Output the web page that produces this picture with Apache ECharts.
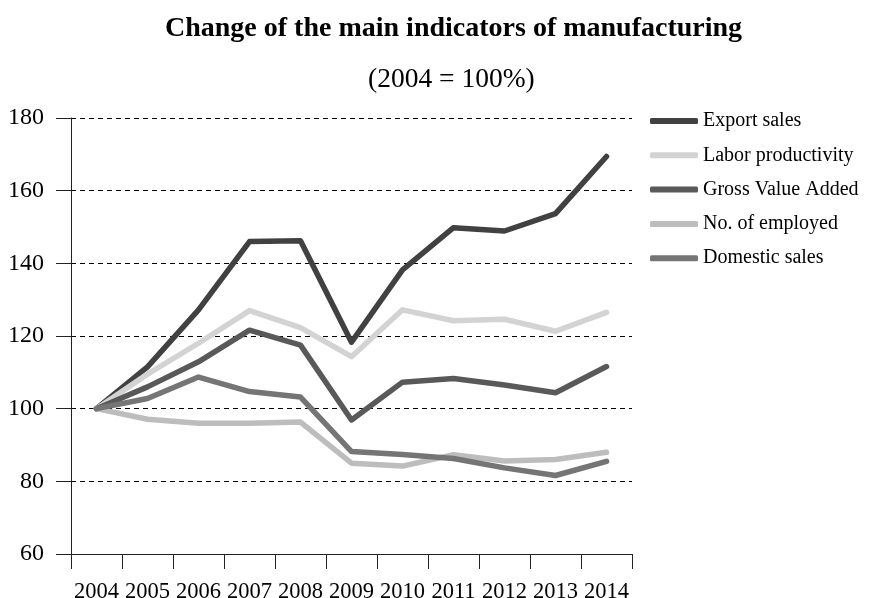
<!DOCTYPE html>
<html>
<head>
<meta charset="utf-8">
<script src="https://cdn.jsdelivr.net/npm/echarts@6/dist/echarts.min.js"></script>
<style>
html,body{margin:0;padding:0;background:#fff;}
#main{width:869px;height:598px;}
</style>
</head>
<body>
<div id="main"></div>
<script>
// 年份（x轴类目）
let years = ['2004','2005','2006','2007','2008','2009','2010','2011','2012','2013','2014'];
// 各指标数值，2004 = 100
let exportSales = [100, 111.5, 127.2, 146, 146.2, 118.3, 138.2, 149.8, 148.9, 153.7, 169.4];
let laborProductivity = [100, 109.5, 118, 127, 122.3, 114.3, 127.2, 124.2, 124.6, 121.3, 126.5];
let grossValueAdded = [100, 106, 112.9, 121.6, 117.5, 96.9, 107.3, 108.3, 106.5, 104.4, 111.6];
let employed = [100, 97.1, 96, 96, 96.3, 85, 84.2, 87.3, 85.6, 86, 88];
let domesticSales = [100, 102.8, 108.7, 104.7, 103.2, 88.2, 87.4, 86.3, 83.7, 81.6, 85.5];
let seriesNames = ['Export sales','Labor productivity','Gross Value Added','No. of employed','Domestic sales'];
let seriesColors = ['#414141','#d3d3d3','#595959','#bdbdbd','#757575'];
let yTicks = [60, 180, 20];	//min, max, interval

let font = '"Liberation Serif", "Times New Roman", serif';

function makeLine(name, data, color){
	return {
		name: name,
		type: 'line',
		data: data,
		symbol: 'none',
		smooth: false,
		lineStyle: {color: color, width: 5.5, cap: 'round', join: 'round'},
		itemStyle: {color: color}
	};
}

let chart = echarts.init(document.getElementById('main'));
let allData = [exportSales, laborProductivity, grossValueAdded, employed, domesticSales];
let series = [];
for (let i = 0; i < seriesNames.length; i++){
	series.push(makeLine(seriesNames[i], allData[i], seriesColors[i]));
}

let option = {
	animation: false,
	backgroundColor: '#fff',
	title: [{
		text: 'Change of the main indicators of manufacturing',
		left: 160,
		top: 10,
		textStyle: {fontFamily: font, fontWeight: 'bold', fontSize: 28, color: '#000'}
	}, {
		text: '(2004 = 100%)',
		left: 363,
		top: 61,
		textStyle: {fontFamily: font, fontWeight: 'normal', fontSize: 27.5, color: '#000'}
	}],
	legend: {
		orient: 'vertical',
		left: 645,
		top: 106,
		icon: 'roundRect',
		itemWidth: 48,
		itemHeight: 6,
		itemGap: 14.3,
		itemTextGap: 6,
		data: seriesNames,
		textStyle: {fontFamily: font, fontSize: 20, color: '#000', lineHeight: 20}
	},
	grid: {left: 71, right: 237, top: 118, bottom: 44, containLabel: false, outerBoundsMode: 'none'},
	xAxis: {
		type: 'category',
		data: years,
		boundaryGap: true,
		axisLine: {lineStyle: {color: '#222', width: 1}},
		axisTick: {show: true, interval: 0, length: 15, lineStyle: {color: '#222'}},
		axisLabel: {interval: 0, margin: 27, fontFamily: font, fontSize: 22.5, color: '#000'},
		splitLine: {show: false}
	},
	yAxis: {
		type: 'value',
		min: yTicks[0],
		max: yTicks[1],
		interval: yTicks[2],
		axisLine: {show: true, lineStyle: {color: '#222', width: 1}},
		axisTick: {show: true, length: 15, lineStyle: {color: '#222'}},
		axisLabel: {margin: 27, fontFamily: font, fontSize: 24, color: '#000'},
		splitLine: {show: true, lineStyle: {color: '#000', width: 1, type: [5, 4]}}
	},
	series: series
};
chart.setOption(option);
</script>
</body>
</html>
